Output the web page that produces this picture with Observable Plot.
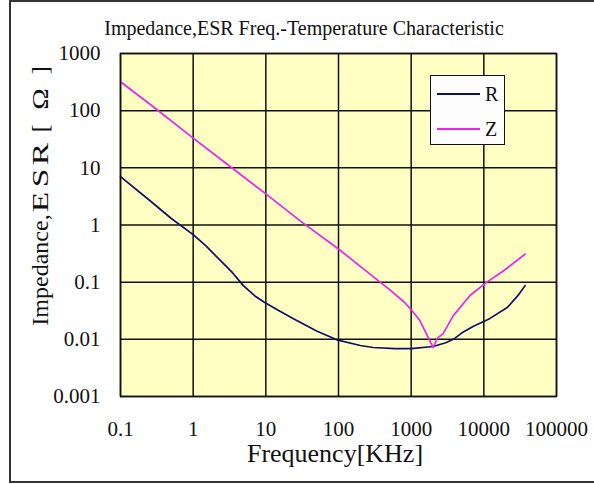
<!DOCTYPE html>
<html>
<head>
<meta charset="utf-8">
<script src="https://cdn.jsdelivr.net/npm/d3@7"></script>
<script src="https://cdn.jsdelivr.net/npm/@observablehq/plot@0.6"></script>
<style>
  body { margin: 0; overflow: hidden; background: #fff; }
  #wrap { position: relative; width: 594px; height: 484px; font-family: "Liberation Serif", "DejaVu Serif", serif; color: #111; }
  #wrap div { font-family: "Liberation Serif", "DejaVu Serif", serif; }
  #border { position: absolute; left: 9px; top: 0; width: 640px; height: 483px; border: 2px solid #333; box-sizing: border-box; }
  #chart { position: absolute; left: 0; top: 0; }
  #title { position: absolute; left: 0; width: 608px; top: 18px; line-height: 20px; text-align: center; font-size: 20px; white-space: nowrap; }
  #xlabel { position: absolute; left: 135px; width: 400px; top: 441px; line-height: 26px; text-align: center; font-size: 26px; white-space: nowrap; }
  #ylabel { position: absolute; left: -110px; top: 179px; width: 300px; height: 24px; line-height: 24px; text-align: center; font-size: 24px; white-space: nowrap; transform: rotate(-90deg); }
  /* wide cells for the unit part of the axis title */
  #ylabel .fw { display: inline-block; text-align: center; }
  #ylabel .ch { width: 24px; transform: scaleX(1.4); }
  #ylabel .br { width: 28px; }
  #ylabel .om { width: 30px; transform: scaleX(1.2); }
  #legend { position: absolute; left: 430px; top: 75px; width: 75px; height: 70px; box-sizing: border-box; background: #fdfdfd; border: 1.5px solid #111; }
  .row { position: absolute; left: 6px; height: 24px; width: 66px; }
  .swatch { position: absolute; left: 0; top: 11px; width: 43px; height: 0; border-top: 2px solid; }
  .key { position: absolute; left: 48px; top: 0; font-size: 20px; line-height: 24px; }
  #chart svg text { font-family: "Liberation Serif", "DejaVu Serif", serif; }
</style>
</head>
<body>
<div id="wrap">
  <div id="border"></div>
  <div id="chart"></div>
  <div id="title">Impedance,ESR Freq.-Temperature Characteristic</div>
  <div id="ylabel">Impedance,<span class="fw ch">E</span><span class="fw ch">S</span><span class="fw ch">R</span><span class="fw br">[</span><span class="fw om">Ω</span><span class="fw br">]</span></div>
  <div id="xlabel">Frequency[KHz]</div>
  <div id="legend"></div>
</div>
<script>
// Frequency sweep in kHz and the measured curves (Ω)
const freqR = [0.1, 0.26, 0.5, 1, 1.5, 2.4, 3.5, 4.9, 7, 9.4, 15, 24, 50, 95, 200, 300, 600, 1000, 2000, 3000, 3800, 5000, 7200, 12000, 21000, 30000, 37000];
const esrR  = [7.0, 2.6, 1.3, 0.68, 0.43, 0.235, 0.145, 0.087, 0.058, 0.045, 0.032, 0.023, 0.014, 0.0098, 0.0078, 0.0072, 0.0069, 0.0069, 0.0075, 0.0087, 0.01, 0.013, 0.017, 0.023, 0.036, 0.06, 0.087];

const freqZ = [0.1, 0.3, 1, 3, 10, 30, 100, 300, 500, 800, 1000, 1300, 1650, 2000, 2300, 2750, 3800, 6500, 11000, 19000, 37000];
const impZ  = [320, 110, 33, 11.3, 3.5, 1.17, 0.38, 0.125, 0.075, 0.045, 0.033, 0.022, 0.012, 0.0072, 0.0105, 0.0126, 0.026, 0.059, 0.1, 0.16, 0.31];

const xTicks = [0.1, 1, 10, 100, 1000, 10000, 100000];
const yTicks = [0.001, 0.01, 0.1, 1, 10, 100, 1000];

const seriesNames = ["R", "Z"];
const seriesColors = ["#10106a", "#ee22ee"];

const rows = [
  ...freqR.map((f, i) => ({series: "R", f, v: esrR[i]})),
  ...freqZ.map((f, i) => ({series: "Z", f, v: impZ[i]}))
];

const chart = Plot.plot({
  width: 594,
  height: 484,
  marginLeft: 120,
  marginRight: 38,
  marginTop: 53,
  marginBottom: 88,
  style: { background: "transparent", fontFamily: "'Liberation Serif', serif", fontSize: "21px", color: "#111" },
  x: { type: "log", domain: [0.1, 100000], ticks: xTicks, tickFormat: d => String(d), label: null },
  y: { type: "log", domain: [0.001, 1000], ticks: yTicks, tickFormat: d => String(d), label: null },
  color: { domain: seriesNames, range: seriesColors },
  marks: [
    Plot.frame({ fill: "#ffffc4" }),
    Plot.gridX(xTicks, { stroke: "#111", strokeOpacity: 1, strokeWidth: 1.5 }),
    Plot.gridY(yTicks, { stroke: "#111", strokeOpacity: 1, strokeWidth: 1.5 }),
    Plot.line(rows, { x: "f", y: "v", z: "series", stroke: "series", strokeWidth: 1.7 }),
    Plot.frame({ stroke: "#111", strokeWidth: 1.5 }),
    Plot.axisX(xTicks, { tickSize: 0, tickPadding: 25, fontSize: 21, label: null, tickFormat: d => String(d) }),
    Plot.axisY(yTicks, { tickSize: 0, tickPadding: 20, fontSize: 21, label: null, tickFormat: d => String(d) })
  ]
});
document.getElementById("chart").appendChild(chart);

// Legend box
const legend = document.getElementById("legend");
seriesNames.forEach((name, i) => {
  const row = document.createElement("div");
  row.className = "row";
  row.style.top = (6 + i * 35) + "px";
  row.innerHTML = `<div class="swatch" style="border-color:${seriesColors[i]}"></div><div class="key">${name}</div>`;
  legend.appendChild(row);
});
</script>
</body>
</html>
